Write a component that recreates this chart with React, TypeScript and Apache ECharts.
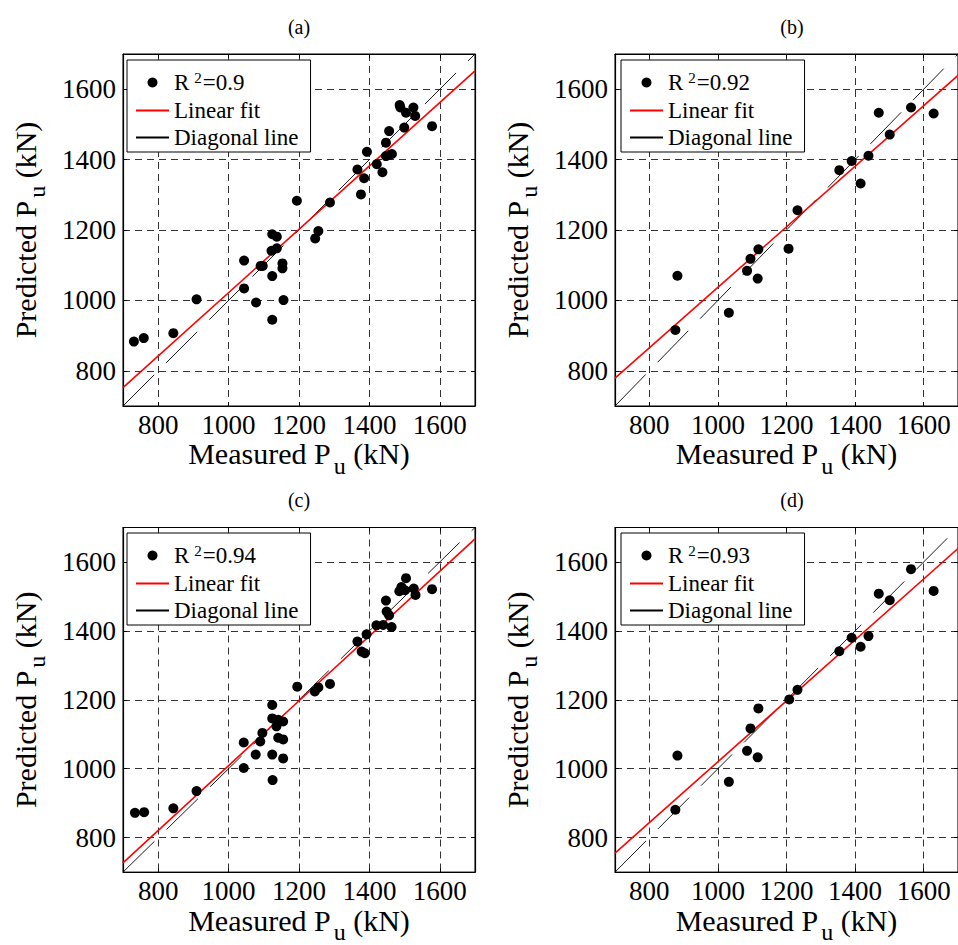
import React, { useEffect, useRef } from "react";
import * as echarts from "echarts";

// ---------- data ----------
const panelLabels = ["(a)", "(b)", "(c)", "(d)"];
const r2Names = ["R2=0.9", "R2=0.92", "R2=0.94", "R2=0.93"];

const measuredA = [731, 759, 843, 909, 1044, 1044, 1078, 1091, 1097, 1124, 1124, 1156, 1153, 1153, 1122, 1137, 1124, 1137, 1194, 1246, 1255, 1288, 1366, 1376, 1385, 1393, 1421, 1437, 1447, 1447, 1456, 1464, 1457, 1499, 1486, 1488, 1504, 1525, 1530, 1578];
const predictedA = [883, 893, 907, 1003, 1034, 1113, 994, 1098, 1098, 1069, 945, 1001, 1105, 1091, 1141, 1148, 1188, 1181, 1283, 1176, 1197, 1278, 1372, 1301, 1347, 1422, 1387, 1364, 1448, 1410, 1481, 1416, 1413, 1491, 1555, 1548, 1533, 1548, 1524, 1495];

const measuredB = [876, 882, 1032, 1085, 1095, 1118, 1116, 1206, 1232, 1354, 1390, 1416, 1439, 1469, 1501, 1563, 1629];
const predictedB = [916, 1070, 965, 1084, 1118, 1145, 1062, 1147, 1256, 1370, 1396, 1332, 1411, 1533, 1471, 1548, 1531];

const measuredC = [734, 760, 843, 909, 1043, 1043, 1077, 1096, 1090, 1124, 1124, 1136, 1141, 1155, 1141, 1155, 1124, 1155, 1125, 1195, 1245, 1255, 1288, 1366, 1378, 1387, 1392, 1420, 1439, 1463, 1449, 1456, 1447, 1485, 1491, 1501, 1504, 1526, 1531, 1578];
const predictedC = [872, 874, 885, 935, 1076, 1002, 1041, 1104, 1079, 1185, 1146, 1123, 1142, 1137, 1090, 1085, 1041, 1030, 967, 1238, 1224, 1236, 1246, 1369, 1340, 1335, 1390, 1416, 1417, 1411, 1456, 1445, 1488, 1515, 1527, 1518, 1553, 1523, 1504, 1521];

const measuredD = [876, 882, 1032, 1085, 1095, 1118, 1116, 1208, 1232, 1354, 1390, 1416, 1439, 1469, 1501, 1563, 1629];
const predictedD = [881, 1038, 962, 1052, 1117, 1175, 1033, 1201, 1229, 1341, 1380, 1354, 1385, 1508, 1489, 1579, 1516];

// linear fit: predicted value at measured = axis min / axis max
const fitAtMin = [752, 779, 727, 755];
const fitAtMax = [1652, 1639, 1667, 1639];

const axisMin = 700;
const axisMax = 1700;

const measured = [measuredA, measuredB, measuredC, measuredD];
const predicted = [predictedA, predictedB, predictedC, predictedD];

// ---------- layout ----------
const FONT = "Liberation Serif";
const gridPos = [
  { left: 123, top: 54 },
  { left: 615, top: 54 },
  { left: 123, top: 527.5 },
  { left: 615, top: 527.5 },
];
const legendPos = [
  { left: 127, top: 60 },
  { left: 621, top: 60 },
  { left: 127, top: 533 },
  { left: 621, top: 533 },
];
const titlePos = [
  { x: 299, y: 27 },
  { x: 792, y: 27 },
  { x: 299, y: 500 },
  { x: 792, y: 500 },
];

function buildOption() {
  const grid = gridPos.map((g) => ({
    ...g,
    width: 352,
    height: 352,
    show: true,
    borderColor: "#000",
    borderWidth: 1,
    backgroundColor: "#fff",
    containLabel: false,
  }));

  const splitLine = {
    show: true,
    lineStyle: { color: "#333", width: 1, type: [7, 5] as any },
  };
  const axisLine = { show: true, lineStyle: { color: "#000", width: 1.2 } };
  const axisTick = { show: true, inside: true, length: 4, lineStyle: { color: "#000" } };
  const nameStyle = {
    color: "#000",
    fontFamily: FONT,
    fontSize: 30,
    rich: {
      sub: { fontFamily: FONT, fontSize: 24, color: "#000", padding: [24, 0, 0, 3] },
    },
  };
  const labelStyle = {
    showMinLabel: false,
    showMaxLabel: false,
    color: "#000",
    fontFamily: FONT,
    fontSize: 27,
    formatter: (v: number) => String(v),
  };

  const xAxis: any[] = [];
  const yAxis: any[] = [];
  for (let i = 0; i < 4; i++) {
    xAxis.push({
      type: "value",
      gridIndex: i,
      min: axisMin,
      max: axisMax,
      splitNumber: 5,
      position: "bottom",
      axisLine,
      axisTick,
      splitLine,
      axisLabel: { ...labelStyle, margin: 5 },
      name: "Measured P{sub|u} (kN)",
      nameLocation: "middle",
      nameGap: 19,
      nameTextStyle: nameStyle,
    });
    yAxis.push({
      type: "value",
      gridIndex: i,
      min: axisMin,
      max: axisMax,
      splitNumber: 5,
      position: "left",
      axisLine,
      axisTick,
      splitLine,
      axisLabel: { ...labelStyle, margin: 7 },
      name: "Predicted P{sub|u} (kN)",
      nameLocation: "middle",
      nameGap: 74,
      nameTextStyle: nameStyle,
    });
  }
  // box-style opposite axes (ticks only)
  for (let i = 0; i < 4; i++) {
    xAxis.push({
      type: "value",
      gridIndex: i,
      min: axisMin,
      max: axisMax,
      splitNumber: 5,
      position: "top",
      axisLine,
      axisTick,
      splitLine: { show: false },
      axisLabel: { show: false },
    });
    yAxis.push({
      type: "value",
      gridIndex: i,
      min: axisMin,
      max: axisMax,
      splitNumber: 5,
      position: "right",
      axisLine,
      axisTick,
      splitLine: { show: false },
      axisLabel: { show: false },
    });
  }

  const series: any[] = [];
  for (let i = 0; i < 4; i++) {
    series.push({
      type: "scatter",
      name: r2Names[i],
      xAxisIndex: i,
      yAxisIndex: i,
      data: measured[i].map((m, k) => [m, predicted[i][k]]),
      symbol: "circle",
      symbolSize: 10,
      itemStyle: { color: "#000", opacity: 1 },
      z: 5,
    });
    series.push({
      type: "line",
      name: "Linear fit",
      xAxisIndex: i,
      yAxisIndex: i,
      data: [
        [axisMin, fitAtMin[i]],
        [axisMax, fitAtMax[i]],
      ],
      symbol: "none",
      lineStyle: { color: "#ff0000", width: 1.6 },
      itemStyle: { color: "#ff0000" },
      z: 4,
    });
    series.push({
      type: "line",
      name: "Diagonal line",
      xAxisIndex: i,
      yAxisIndex: i,
      data: [
        [axisMin, axisMin],
        [axisMax, axisMax],
      ],
      symbol: "none",
      lineStyle: { color: "#000", width: 0.9, type: [44, 17] },
      itemStyle: { color: "#000" },
      z: 3,
    });
  }

  const legend = legendPos.map((p, i) => ({
    ...p,
    orient: "vertical",
    selectedMode: false,
    data: [
      { name: r2Names[i], icon: "circle", itemStyle: { opacity: 1 } },
      { name: "Linear fit", itemStyle: { opacity: 0 } },
      { name: "Diagonal line", itemStyle: { opacity: 0 } },
    ],
    itemWidth: 33,
    itemHeight: 10,
    itemGap: 4,
    padding: [10, 12, 3, 8],
    borderColor: "#000",
    borderWidth: 1,
    borderRadius: 0,
    backgroundColor: "#fff",
    z: 10,
    formatter: (name: string) =>
      name.startsWith("R2")
        ? `{n|R}{sup|2}{n|${name.slice(2)}}`
        : `{n|${name}}`,
    textStyle: {
      color: "#000",
      fontFamily: FONT,
      fontSize: 23,
      rich: {
        n: { fontFamily: FONT, fontSize: 23, color: "#000", lineHeight: 24 },
        sup: { fontFamily: FONT, fontSize: 15, color: "#000", lineHeight: 14, padding: [0, 1, 10, 5] },
      },
    },
  }));

  const graphic = titlePos.map((p, i) => ({
    type: "text",
    x: p.x,
    y: p.y,
    style: {
      text: panelLabels[i],
      fill: "#000",
      font: `20px "${FONT}"`,
      align: "center",
      verticalAlign: "middle",
    },
  }));

  return {
    animation: false,
    backgroundColor: "#fff",
    grid,
    xAxis,
    yAxis,
    series,
    legend,
    graphic,
  };
}

export default function App() {
  const ref = useRef<HTMLDivElement>(null);
  useEffect(() => {
    if (!ref.current) return;
    const chart = echarts.init(ref.current, null, { renderer: "svg" });
    chart.setOption(buildOption() as any);
    return () => chart.dispose();
  }, []);
  return (
    <div
      ref={ref}
      style={{ position: "absolute", left: 0, top: 0, width: 958, height: 945, background: "#fff" }}
    />
  );
}
